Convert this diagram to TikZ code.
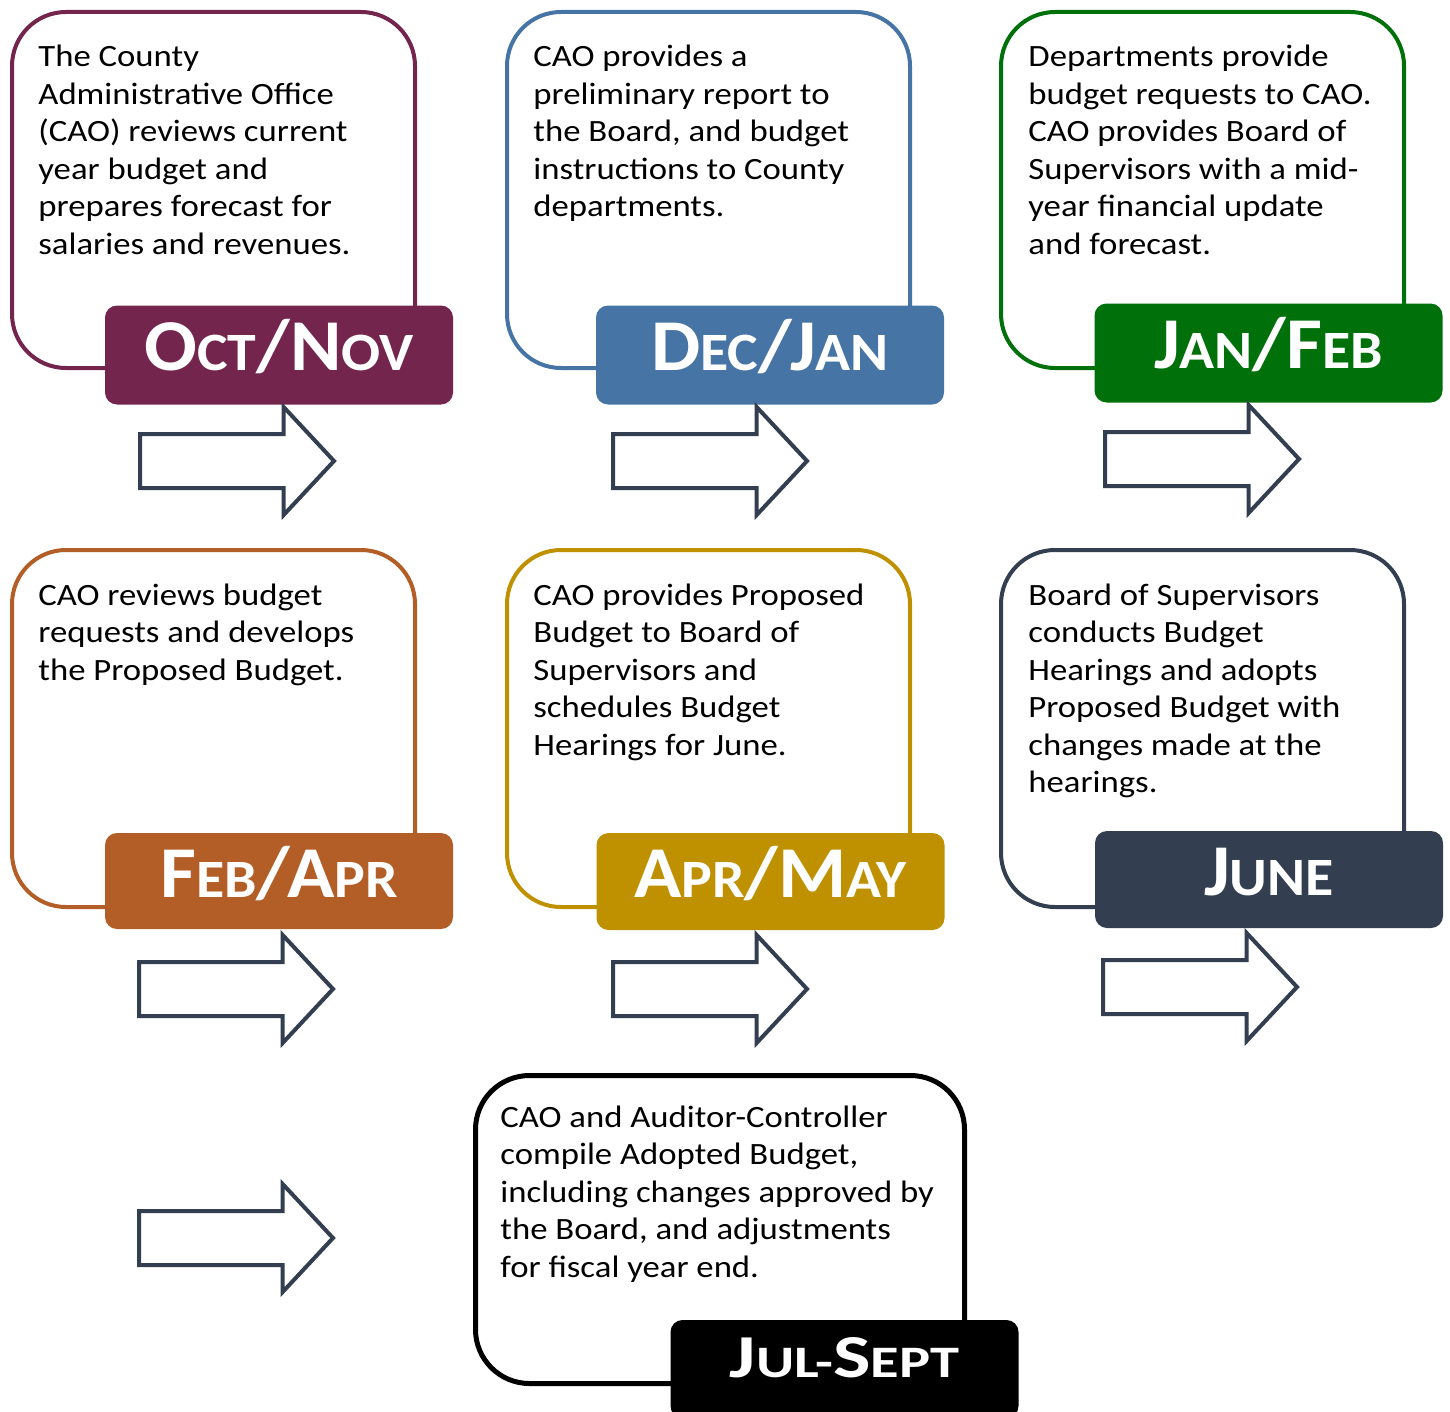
\documentclass[tikz,border=0pt]{standalone}
\usepackage{fontspec}
\setmainfont{Carlito}[FakeStretch=1.12]
\newfontfamily\titlefont{Carlito}[FakeStretch=1.07]
\newfontfamily\widefont{Carlito}[FakeStretch=1.3]
\usepackage{tikz}
\usetikzlibrary{shapes.arrows}

\definecolor{octnov}{HTML}{74254E}
\definecolor{decjan}{HTML}{4674A4}
\definecolor{janfeb}{HTML}{00700B}
\definecolor{febapr}{HTML}{B45E27}
\definecolor{aprmay}{HTML}{BF9000}
\definecolor{june}{HTML}{333F50}
\definecolor{julsep}{HTML}{000000}
\definecolor{arrowc}{HTML}{333F50}

\newcommand\lc[1]{{\fontsize{27}{27}\selectfont #1}}

\begin{document}
\begin{tikzpicture}[x=0.5pt,y=-0.5pt,
  panel/.style={draw,line width=2pt,rounded corners=27pt,fill=white,anchor=north west,
    inner sep=0pt,minimum width=201.5pt,minimum height=178pt},
  month/.style={rounded corners=6pt,inner sep=0pt,minimum width=174pt,minimum height=49.5pt,
    text height=15pt,text depth=0pt,
    text=white,font=\titlefont\bfseries\fontsize{36.5}{36.5}\selectfont},
  info/.style={anchor=base west,align=left,inner sep=0pt,font=\fontsize{15.5}{18.75}\selectfont},
  next/.style={single arrow,draw=arrowc,line width=2pt,fill=white,anchor=tail,
    inner sep=12.5pt,minimum height=97pt,single arrow head extend=13.5pt,
    single arrow tip angle=94}]
  \useasboundingbox (0,0) rectangle (1450,1412);

  % first row (text nodes sit on their last baseline)
  \node[panel,draw=octnov] (b1) at (10,10) {};
  \node[info] (t1) at (38,254.5) {The County\\Administrative Office\\(CAO) reviews current\\year budget and\\prepares forecast for\\salaries and revenues.};
  \node[month,fill=octnov] (m1) at (279,355) {O\lc{CT}/N\lc{OV}};

  \node[panel,draw=decjan] (b2) at (505,10) {};
  \node[info] (t2) at (533,217) {CAO provides a\\preliminary report to\\the Board, and budget\\instructions to County\\departments.};
  \node[month,fill=decjan] (m2) at (770,355) {D\lc{EC}/J\lc{AN}};

  \node[panel,draw=janfeb] (b3) at (999,10) {};
  \node[info] (t3) at (1028,254.5) {Departments provide\\budget requests to CAO.\\CAO provides Board of\\Supervisors with a mid-\\year financial update\\and forecast.};
  \node[month,fill=janfeb] (m3) at (1268.5,353) {J\lc{AN}/F\lc{EB}};

  \node[next] (a1) at (138,461) {};
  \node[next] (a2) at (611,461) {};
  \node[next] (a3) at (1103,459) {};

  % second row
  \node[panel,draw=febapr,minimum height=178.5pt] (b4) at (10,548) {};
  \node[info] (t4) at (38,680) {CAO reviews budget\\requests and develops\\the Proposed Budget.};
  \node[month,fill=febapr,minimum height=48pt,text height=16pt] (m4) at (279,881) {F\lc{EB}/A\lc{PR}};

  \node[panel,draw=aprmay,minimum height=178.5pt] (b5) at (505,548) {};
  \node[info] (t5) at (533,755) {CAO provides Proposed\\Budget to Board of\\Supervisors and\\schedules Budget\\Hearings for June.};
  \node[month,fill=aprmay,minimum height=48.5pt,text height=16pt] (m5) at (770.5,881.5) {A\lc{PR}/M\lc{AY}};

  \node[panel,draw=june,minimum height=178.5pt] (b6) at (999,548) {};
  \node[info] (t6) at (1028,792.5) {Board of Supervisors\\conducts Budget\\Hearings and adopts\\Proposed Budget with\\changes made at the\\hearings.};
  \node[month,fill=june,minimum height=48.5pt,text height=16pt] (m6) at (1269,879.5) {J\lc{UNE}};

  \node[next] (a4) at (137,989) {};
  \node[next] (a5) at (611,989) {};
  \node[next] (a6) at (1101,987) {};

  % last row
  \node[next] (a7) at (137,1238) {};
  \node[panel,draw=julsep,line width=2.5pt,minimum width=244.5pt,minimum height=154pt] (b7) at (473,1073) {};
  \node[info] (t7) at (500,1277) {CAO and Auditor-Controller\\compile Adopted Budget,\\including changes approved by\\the Board, and adjustments\\for fiscal year end.};
  \node[month,fill=julsep,minimum height=49pt,text height=8pt,
    font=\widefont\bfseries\fontsize{30.5}{30.5}\selectfont] (m7) at (844.5,1369)
    {J{\fontsize{22.5}{22.5}\selectfont UL-}S{\fontsize{22.5}{22.5}\selectfont EPT}};
\end{tikzpicture}
\end{document}
